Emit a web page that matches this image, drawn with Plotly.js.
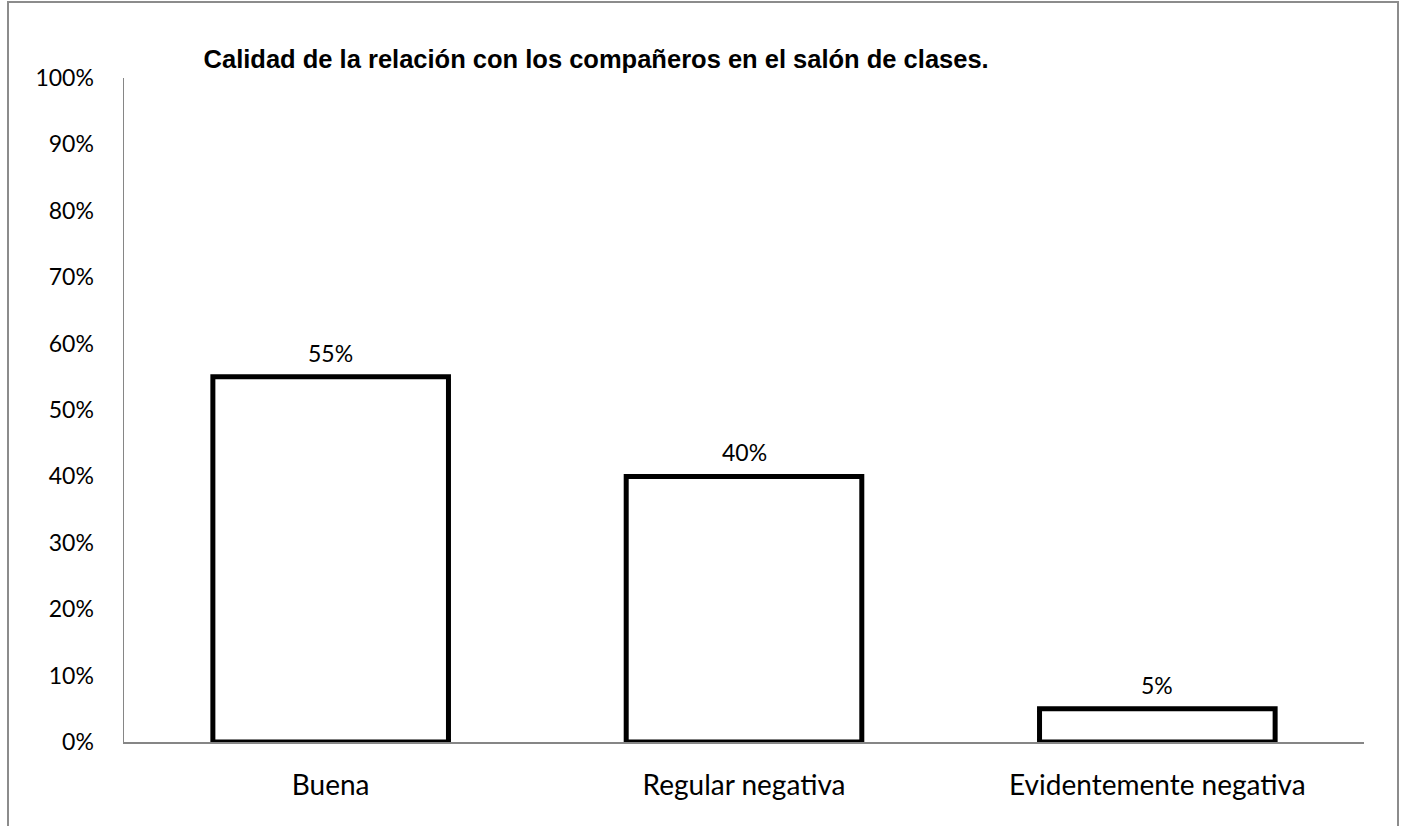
<!DOCTYPE html>
<html>
<head>
<meta charset="utf-8">
<script src="https://cdn.plot.ly/plotly-3.0.1.min.js"></script>
<style>
  html, body { margin: 0; padding: 0; background: #fff; }
  #chart { width: 1406px; height: 826px; position: absolute; left: 0; top: 0; }
  #frame { position: absolute; left: 7px; top: 1px; width: 1388px; height: 900px;
           border-left: 2px solid #8c8c8c; border-top: 2px solid #8c8c8c; border-right: 2px solid #8c8c8c;
           pointer-events: none; }
</style>
</head>
<body>
<div id="chart"></div>
<div id="frame"></div>
<script>
const categories = ["Buena", "Regular negativa", "Evidentemente negativa"];
const values = [0.55, 0.40, 0.05];
const valueLabels = ["55%", "40%", "5%"];
const yTickValues = [0, 0.1, 0.2, 0.3, 0.4, 0.5, 0.6, 0.7, 0.8, 0.9, 1.0];
const yTickLabels = ["0%", "10%", "20%", "30%", "40%", "50%", "60%", "70%", "80%", "90%", "100%"];
const chartTitle = "Calidad de la relación con los compañeros en el salón de clases.";

const bodyFont = "Lato, 'Open Sans', sans-serif";

const trace = {
  type: "bar",
  x: categories,
  y: values,
  marker: { color: "#ffffff", line: { color: "#000000", width: 5 } },
  hoverinfo: "skip"
};

const annotations = categories.map((c, i) => ({
  x: c, y: values[i], xref: "x", yref: "y",
  text: valueLabels[i], showarrow: false,
  yanchor: "bottom", yshift: 8,
  font: { family: bodyFont, size: 23, color: "#000" }
}));

const layout = {
  width: 1406, height: 826,
  paper_bgcolor: "#ffffff", plot_bgcolor: "#ffffff",
  margin: { l: 124, r: 42, t: 78, b: 84 },
  showlegend: false,
  bargap: 0.43,
  title: {
    text: chartTitle,
    font: { family: "'Liberation Sans', Arial, sans-serif", size: 25.5, color: "#000", weight: "bold" },
    xref: "container", yref: "container",
    x: 0.424, xanchor: "center", y: 0.929, yanchor: "middle"
  },
  xaxis: {
    type: "category",
    showline: true, linecolor: "#868686", linewidth: 1.5,
    ticks: "", showgrid: false, zeroline: false,
    tickfont: { family: bodyFont, size: 28, color: "#000" },
    ticklabelstandoff: 18
  },
  yaxis: {
    range: [0, 1],
    tickvals: yTickValues, ticktext: yTickLabels,
    showline: true, linecolor: "#868686", linewidth: 1.5,
    ticks: "", showgrid: false, zeroline: false,
    tickfont: { family: bodyFont, size: 23, color: "#000" },
    ticklabelstandoff: 24
  },
  annotations: annotations
};

Plotly.newPlot("chart", [trace], layout, { displayModeBar: false, staticPlot: true });
</script>
</body>
</html>
